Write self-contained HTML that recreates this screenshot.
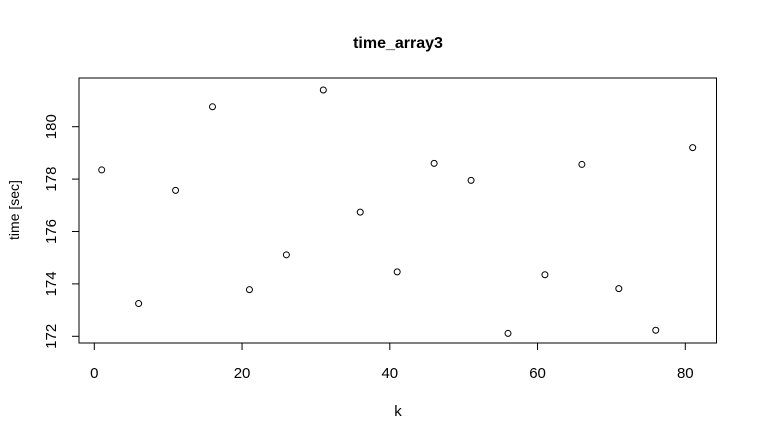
<!DOCTYPE html>
<html><head><meta charset="utf-8"><style>
body{margin:0;background:#fff}
svg{display:block;font-family:"Liberation Sans",Arial,sans-serif}
</style></head><body>
<svg id="chart" width="757" height="441" viewBox="0 0 757 441">
<rect width="757" height="441" fill="#fff"/>
<text x="398" y="48" text-anchor="middle" font-size="16" font-weight="bold">time_array3</text>
<rect x="79" y="78" width="637.5" height="265" fill="none" stroke="#000" stroke-width="1"/>
<text x="398" y="416" text-anchor="middle" font-size="15">k</text>
<text transform="translate(19,210) rotate(-90)" text-anchor="middle" font-size="14">time [sec]</text>
<g id="xaxis"></g>
<g id="yaxis"></g>
<g id="points"></g>
</svg>
<script>
const kValues = [1,6,11,16,21,26,31,36,41,46,51,56,61,66,71,76,81];
const timeValues = [178.35,173.25,177.57,180.76,173.78,175.11,181.40,176.74,174.46,178.60,177.95,172.11,174.35,178.56,173.82,172.23,179.20];
const xTicks = [0,20,40,60,80];
const yTicks = [172,174,176,178,180];
const NS = "http://www.w3.org/2000/svg";
function sx(v){return 94.3 + v*(685.3-94.3)/80;}
function sy(v){return 336.3 - (v-172)*(336.3-126.7)/8;}
function mk(tag, attrs, parent){const e=document.createElementNS(NS,tag);for(const k in attrs)e.setAttribute(k,attrs[k]);parent.appendChild(e);return e;}
const xg=document.getElementById('xaxis'), yg=document.getElementById('yaxis'), pg=document.getElementById('points');
mk('line',{x1:sx(xTicks[0]),x2:sx(xTicks[xTicks.length-1]),y1:343,y2:343,stroke:'#000'},xg);
xTicks.forEach(t=>{
  const l=mk('line',{x1:sx(t),x2:sx(t),y1:343,y2:350,stroke:'#000'},xg);
  
  
  const tx=mk('text',{x:sx(t),y:378,'text-anchor':'middle','font-size':'15'},xg);
  tx.textContent=t;
  
  
});
mk('line',{x1:79,x2:79,y1:sy(yTicks[0]),y2:sy(yTicks[yTicks.length-1]),stroke:'#000'},yg);
yTicks.forEach(t=>{
  const l=mk('line',{x1:72,x2:79,y1:sy(t),y2:sy(t),stroke:'#000'},yg);
  
  
  const tx=mk('text',{transform:`translate(56,${sy(t)}) rotate(-90)`,'text-anchor':'middle','font-size':'15'},yg);
  tx.textContent=t;
  
  
});
kValues.forEach((k,i)=>{
  const c=mk('circle',{cx:sx(k),cy:sy(timeValues[i]),r:3,fill:'none',stroke:'#000','stroke-width':1},pg);
  
  
});
</script>
</body></html>
